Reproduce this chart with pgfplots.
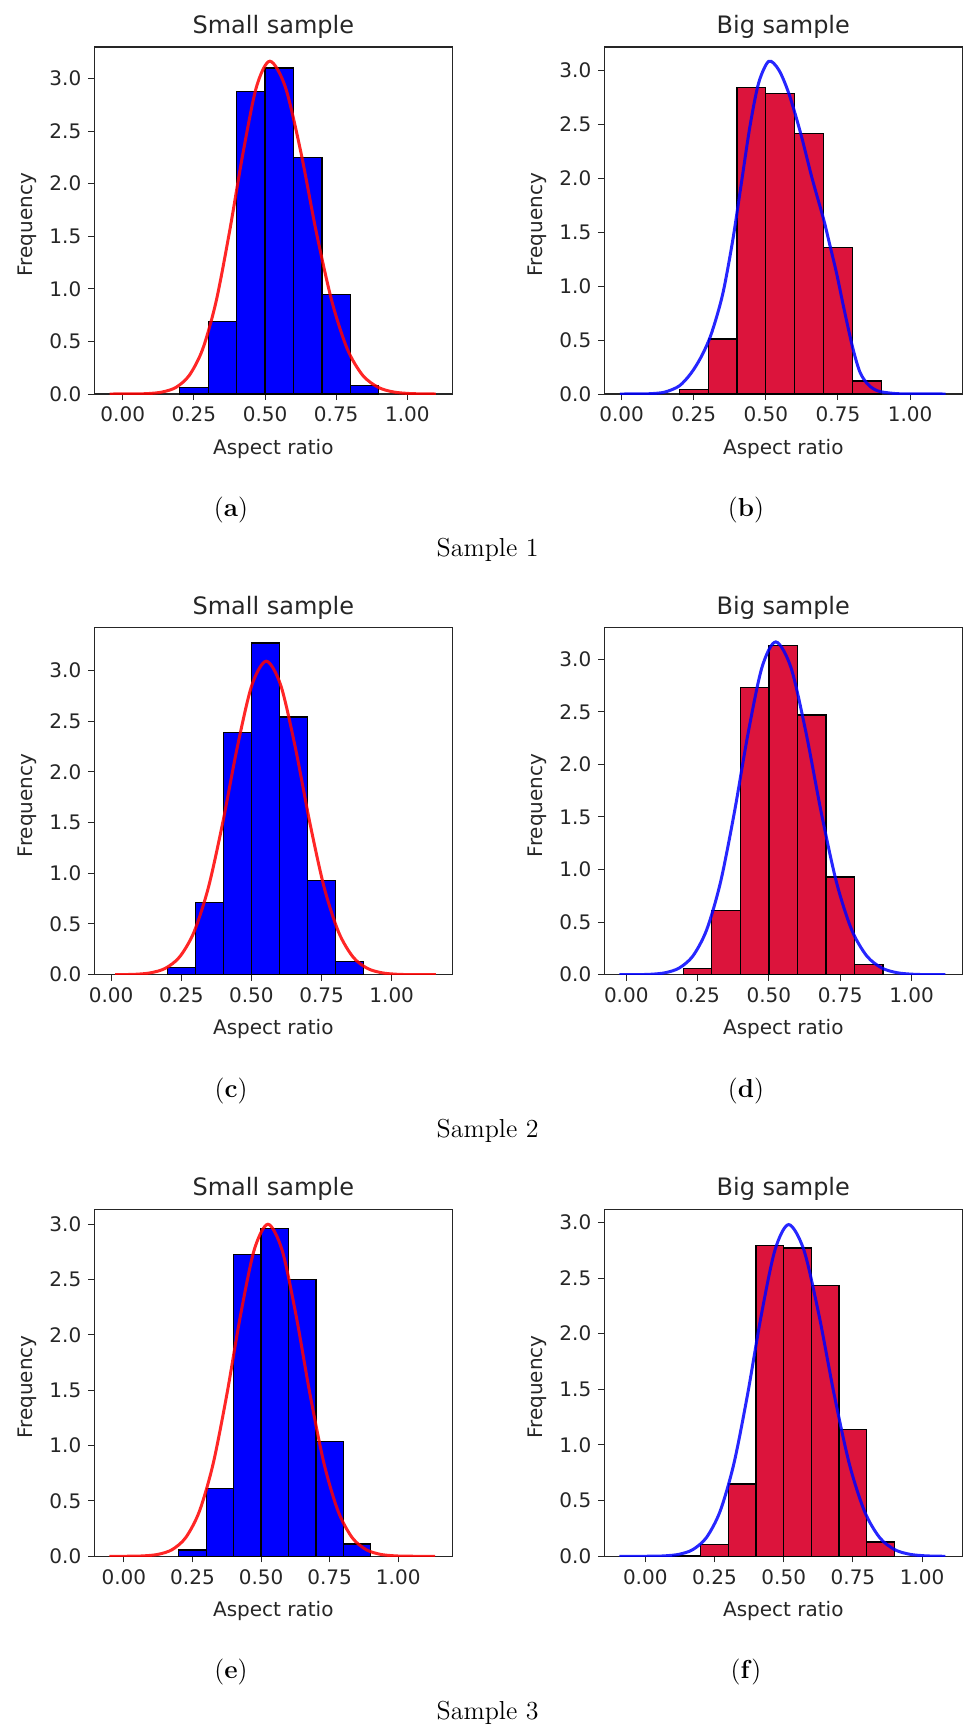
\documentclass[border=0pt]{standalone}
\usepackage{fontspec}
\setmainfont{DejaVu Sans}
\newfontfamily\capfont{Latin Modern Roman}
\usepackage{pgfplots}
\pgfplotsset{compat=1.18}
\definecolor{crimson}{HTML}{DC143C}
\definecolor{spine}{HTML}{262626}
\pgfplotsset{
 hist/.style={
   scale only axis, width=179pt, height=173.5pt, anchor=north west,
   ymin=0,
   axis line style={spine, line width=0.6pt},
   tick style={spine, line width=0.5pt},
   tick align=outside, major tick length=3pt, tick pos=left,
   xtick={0,0.25,0.5,0.75,1}, xticklabels={0.00,0.25,0.50,0.75,1.00},
   ytick={0,0.5,1,1.5,2,2.5,3}, yticklabels={0.0,0.5,1.0,1.5,2.0,2.5,3.0},
   ticklabel style={font=\fontsize{10}{12}\selectfont, text=spine},
   /pgf/number format/assume math mode=true,
   xlabel={Aspect ratio}, ylabel={Frequency},
   label style={font=\fontsize{10}{12}\selectfont, text=spine},
   xlabel style={at={(axis description cs:0.5,-0.173)}, anchor=base},
   ylabel style={at={(axis description cs:-0.172,0.488)}, anchor=base},
   every axis title shift=0pt,
   title style={font=\fontsize{12}{14}\selectfont, text=spine, at={(axis description cs:0.5,1.0395)}, anchor=base},
 },
 bars/.style={ybar interval, draw=black, line width=0.6pt},
 curve/.style={smooth, no marks, line width=1.5pt, opacity=0.85},
}
\newcommand{\capsize}{\capfont\fontsize{13}{15}\selectfont}
\begin{document}
\begin{tikzpicture}
\useasboundingbox (0,0) rectangle (482pt,-864.5pt);
% ---------- (a)
\begin{axis}[hist, at={(47.15pt,-23.5pt)}, xmin=-0.1, xmax=1.158, ymax=3.30, title={Small sample}]
\addplot[bars, fill=blue] coordinates {(0.2,0.06) (0.3,0.69) (0.4,2.88) (0.5,3.10) (0.6,2.25) (0.7,0.95) (0.8,0.08) (0.9,0)};
\addplot[curve, red] coordinates {(-0.046,0) (0.045,0.0009) (0.092,0.0047) (0.139,0.019) (0.187,0.063) (0.234,0.178) (0.281,0.428) (0.328,0.880) (0.375,1.541) (0.423,2.298) (0.470,2.922) (0.517,3.165) (0.571,2.922) (0.626,2.298) (0.680,1.541) (0.735,0.880) (0.789,0.428) (0.843,0.178) (0.898,0.063) (0.952,0.019) (1.007,0.0047) (1.061,0.0009) (1.10,0)};
\end{axis}
% ---------- (b)
\begin{axis}[hist, at={(302.15pt,-23.5pt)}, xmin=-0.06, xmax=1.181, ymax=3.213, title={Big sample}]
\addplot[bars, fill=crimson] coordinates {(0.2,0.04) (0.3,0.51) (0.4,2.84) (0.5,2.78) (0.6,2.41) (0.7,1.36) (0.8,0.12) (0.9,0)};
\addplot[curve, blue] coordinates {(-0.006,0) (0.05,0.0005) (0.10,0.003) (0.15,0.018) (0.20,0.075) (0.24,0.19) (0.275,0.34) (0.31,0.55) (0.35,0.92) (0.385,1.42) (0.415,1.95) (0.445,2.48) (0.475,2.88) (0.51,3.08) (0.545,3.00) (0.58,2.78) (0.62,2.42) (0.66,2.00) (0.70,1.62) (0.72,1.40) (0.745,1.12) (0.77,0.80) (0.80,0.44) (0.825,0.21) (0.85,0.10) (0.875,0.045) (0.90,0.02) (0.95,0.004) (1.00,0.001) (1.123,0)};
\end{axis}
% ---------- (c)
\begin{axis}[hist, at={(47.15pt,-313.85pt)}, xmin=-0.06, xmax=1.216, ymax=3.42, title={Small sample}]
\addplot[bars, fill=blue] coordinates {(0.2,0.07) (0.3,0.715) (0.4,2.39) (0.5,3.27) (0.6,2.54) (0.7,0.925) (0.8,0.128) (0.9,0)};
\addplot[curve, red] coordinates {(0.014,0) (0.037,0.0009) (0.0886,0.0046) (0.1402,0.0185) (0.1918,0.0612) (0.2434,0.173) (0.295,0.418) (0.3466,0.859) (0.3982,1.504) (0.4498,2.244) (0.5014,2.852) (0.553,3.09) (0.6046,2.852) (0.6562,2.244) (0.7078,1.504) (0.7594,0.859) (0.811,0.418) (0.8626,0.173) (0.9142,0.0612) (0.9658,0.0185) (1.0174,0.0046) (1.069,0.0009) (1.157,0)};
\end{axis}
% ---------- (d)
\begin{axis}[hist, at={(302.15pt,-313.85pt)}, xmin=-0.077, xmax=1.178, ymax=3.30, title={Big sample}]
\addplot[bars, fill=crimson] coordinates {(0.2,0.06) (0.3,0.607) (0.4,2.73) (0.5,3.13) (0.6,2.47) (0.7,0.93) (0.8,0.098) (0.9,0)};
\addplot[curve, blue] coordinates {(-0.0245,0) (0.040,0.0009) (0.0884,0.0047) (0.1368,0.019) (0.1852,0.063) (0.2336,0.178) (0.282,0.428) (0.3304,0.880) (0.3788,1.541) (0.4272,2.298) (0.4756,2.922) (0.524,3.165) (0.5772,2.922) (0.6304,2.298) (0.6836,1.541) (0.7368,0.880) (0.790,0.428) (0.8432,0.178) (0.8964,0.063) (0.9496,0.019) (1.0028,0.0047) (1.056,0.0009) (1.119,0)};
\end{axis}
% ---------- (e)
\begin{axis}[hist, at={(47.15pt,-604.65pt)}, xmin=-0.108, xmax=1.197, ymax=3.135, title={Small sample}]
\addplot[bars, fill=blue] coordinates {(0.2,0.057) (0.3,0.614) (0.4,2.73) (0.5,2.96) (0.6,2.50) (0.7,1.036) (0.8,0.111) (0.9,0)};
\addplot[curve, red] coordinates {(-0.053,0) (0.025,0.0009) (0.075,0.0045) (0.125,0.018) (0.175,0.0594) (0.225,0.168) (0.275,0.406) (0.325,0.834) (0.375,1.460) (0.425,2.178) (0.475,2.769) (0.525,3.00) (0.5762,2.769) (0.6274,2.178) (0.6786,1.460) (0.7298,0.834) (0.781,0.406) (0.8322,0.168) (0.8834,0.0594) (0.9346,0.018) (0.9858,0.0045) (1.037,0.0009) (1.134,0)};
\end{axis}
% ---------- (f)
\begin{axis}[hist, at={(302.15pt,-604.65pt)}, xmin=-0.148, xmax=1.145, ymax=3.117, title={Big sample}]
\addplot[bars, fill=crimson] coordinates {(0.1,0.01) (0.2,0.108) (0.3,0.65) (0.4,2.79) (0.5,2.77) (0.6,2.43) (0.7,1.14) (0.8,0.129) (0.9,0)};
\addplot[curve, blue] coordinates {(-0.094,0) (0.022,0.0009) (0.0716,0.0045) (0.1212,0.0179) (0.1708,0.059) (0.2204,0.167) (0.270,0.403) (0.3196,0.828) (0.3692,1.451) (0.4188,2.164) (0.4684,2.751) (0.518,2.98) (0.5728,2.751) (0.6276,2.164) (0.6824,1.451) (0.7372,0.828) (0.792,0.403) (0.8468,0.167) (0.9016,0.059) (0.9564,0.0179) (1.0112,0.0045) (1.066,0.0009) (1.084,0)};
\end{axis}
% ---------- captions
\node[font=\capsize] at (115.5pt,-254.8pt) {(\textbf{a})};
\node[font=\capsize] at (373pt,-254.8pt) {(\textbf{b})};
\node[font=\capsize, anchor=base] at (243.8pt,-278.3pt) {Sample 1};
\node[font=\capsize] at (115.5pt,-545.4pt) {(\textbf{c})};
\node[font=\capsize] at (373pt,-545.4pt) {(\textbf{d})};
\node[font=\capsize, anchor=base] at (243.8pt,-568.9pt) {Sample 2};
\node[font=\capsize] at (115.5pt,-836pt) {(\textbf{e})};
\node[font=\capsize] at (373pt,-836pt) {(\textbf{f})};
\node[font=\capsize, anchor=base] at (243.8pt,-859.5pt) {Sample 3};
\end{tikzpicture}
\end{document}
